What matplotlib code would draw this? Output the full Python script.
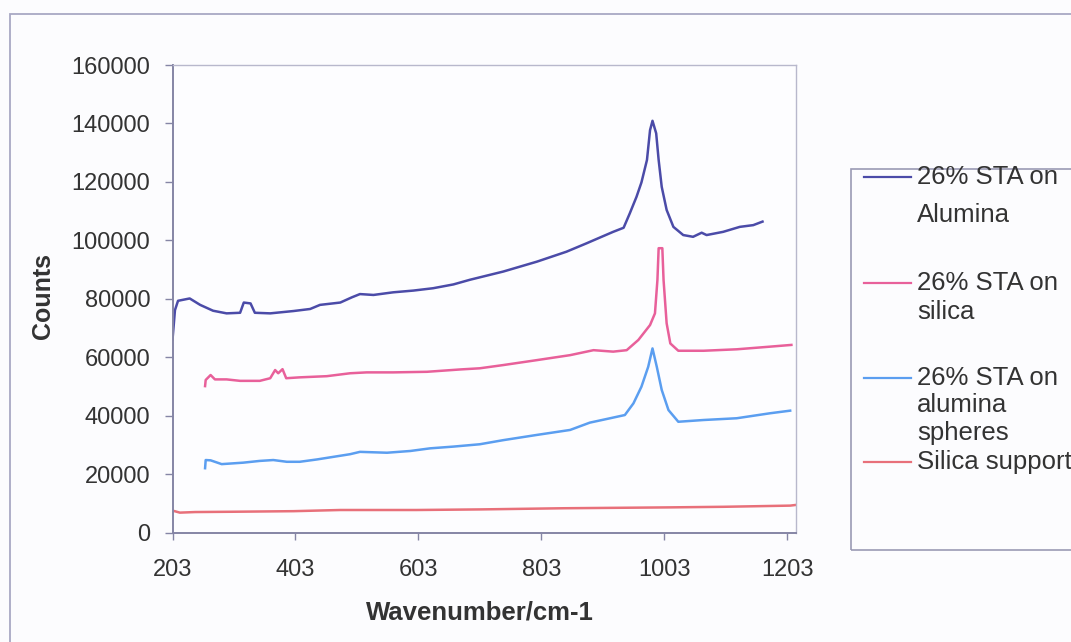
import matplotlib
matplotlib.use("Agg")
import matplotlib.pyplot as plt
from matplotlib.lines import Line2D
from matplotlib.patches import Rectangle

plt.rcParams['font.family'] = ['Liberation Sans', 'DejaVu Sans']

# Raman spectra
alumina_x = [203, 205, 207, 212, 231, 248, 269, 291, 313, 319, 330, 337, 362, 400,
             427, 443, 476, 495, 508, 530, 562, 595, 627, 660, 687, 741, 796, 844,
             877, 899, 920, 937, 947, 958, 966, 975, 980, 984, 990, 994, 999, 1007,
             1018, 1034, 1050, 1064, 1072, 1099, 1126, 1148, 1163]
alumina_y = [66000, 71000, 76100, 79300, 80100, 77900, 75900, 75000, 75200, 78700,
             78400, 75200, 75000, 75800, 76500, 77900, 78700, 80500, 81600, 81300,
             82200, 82800, 83600, 84900, 86500, 89300, 92700, 96100, 99000, 101000,
             102900, 104300, 109200, 114900, 119800, 127500, 137700, 140900, 136600,
             127500, 118300, 110400, 104600, 101800, 101200, 102600, 101800, 102900,
             104600, 105200, 106400]

silica_x = [256, 257, 265, 272, 291, 313, 345, 362, 370, 375, 382, 388, 410, 454,
            492, 519, 562, 617, 671, 703, 741, 796, 850, 888, 920, 942, 961, 980,
            988, 992, 994, 1000, 1002, 1007, 1013, 1026, 1067, 1121, 1175, 1210]
silica_y = [50100, 52200, 53900, 52400, 52400, 51900, 51900, 52800, 55600, 54500,
            55900, 52800, 53100, 53500, 54500, 54800, 54800, 55000, 55800, 56200,
            57300, 59000, 60700, 62400, 61900, 62400, 65900, 71000, 75000, 86400,
            97300, 97300, 86400, 71600, 64700, 62200, 62200, 62700, 63600, 64200]

spheres_x = [256, 257, 265, 283, 318, 345, 367, 389, 410, 438, 465, 492, 508, 552,
             590, 622, 660, 703, 741, 796, 850, 882, 915, 939, 953, 966, 977, 984,
             991, 999, 1010, 1026, 1067, 1121, 1175, 1208]
spheres_y = [22000, 24800, 24700, 23400, 23900, 24500, 24800, 24200, 24200, 25000,
             25900, 26800, 27600, 27300, 27900, 28800, 29400, 30200, 31600, 33400,
             35100, 37600, 39100, 40200, 44200, 49900, 56700, 63000, 56700, 48800,
             41900, 37900, 38500, 39100, 40800, 41700]

support_x = [203, 215, 240, 300, 400, 476, 600, 703, 839, 1013, 1100, 1208, 1216]
support_y = [7500, 6800, 7000, 7100, 7300, 7700, 7700, 7900, 8300, 8600, 8800, 9200, 9400]

series_labels = [["26% STA on", "Alumina"],
                 ["26% STA on", "silica"],
                 ["26% STA on", "alumina", "spheres"],
                 ["Silica support"]]
series_colors = ["#4b4ba8", "#e8609a", "#5b9ef0", "#e8707a"]

x_ticks = [203, 403, 603, 803, 1003, 1203]
y_ticks = [0, 20000, 40000, 60000, 80000, 100000, 120000, 140000, 160000]

W, H = 1071, 642
fig = plt.figure(figsize=(W / 100, H / 100), dpi=100, facecolor="#fcfcfe")
ax = fig.add_axes([172.5 / W, 1 - 532.5 / H, (795.7 - 172.5) / W, (532.5 - 65) / H])
ax.set_facecolor("#fdfdff")

data = [(alumina_x, alumina_y), (silica_x, silica_y),
        (spheres_x, spheres_y), (support_x, support_y)]
for (xs, ys), c in zip(data, series_colors):
    ax.plot(xs, ys, color=c, lw=1.8, solid_joinstyle="round")

ax.set_xlim(203, 1217)
ax.set_ylim(0, 160000)
ax.set_xticks(x_ticks)
ax.set_yticks(y_ticks)
ax.set_xticklabels([str(v) for v in x_ticks])
ax.set_yticklabels([str(v) for v in y_ticks])

axis_col = "#8585a5"
for side in ["left", "bottom"]:
    ax.spines[side].set_color(axis_col)
    ax.spines[side].set_linewidth(1.4)
for side in ["top", "right"]:
    ax.spines[side].set_color("#b8b8cc")
    ax.spines[side].set_linewidth(1.0)

ax.tick_params(axis="y", direction="out", length=6, width=1.0, color=axis_col,
               labelsize=17, labelcolor="#333333", pad=10)
ax.tick_params(axis="x", direction="out", length=5, width=1.0, color=axis_col,
               labelsize=17, labelcolor="#333333", pad=14)

fig.text(43 / W, 1 - 296 / H, "Counts", rotation=90, fontsize=18, fontweight="bold",
         color="#333333", ha="center", va="center")
fig.text(479.5 / W, 1 - 613 / H, "Wavenumber/cm-1", fontsize=18.5, fontweight="bold",
         color="#333333", ha="center", va="center")

# outer chart frame (runs off the scanned page)
fig.add_artist(Rectangle((10 / W, -0.2), 1.2, 1.2 - 14 / H, transform=fig.transFigure,
                         fill=False, edgecolor="#a8a8c4", lw=1.3))

# legend box, drawn by hand to match the wrapped Excel labels
fig.add_artist(Rectangle((851 / W, 1 - 550 / H), 0.5, (550 - 168.7) / H,
                         transform=fig.transFigure, fill=False,
                         edgecolor="#9a9ab4", lw=1.2))
line_y = [177, 283, 378, 462]
text_lines = [[177, 215], [283, 312], [378, 405, 433], [462]]
for lbl, c, ly, tys in zip(series_labels, series_colors, line_y, text_lines):
    fig.add_artist(Line2D([864 / W, 911 / W], [1 - ly / H, 1 - ly / H],
                          transform=fig.transFigure, color=c, lw=1.6))
    for part, ty in zip(lbl, tys):
        fig.text(917 / W, 1 - ty / H, part, fontsize=18.5, color="#333333",
                 ha="left", va="center")

fig.savefig("out.png", dpi=100, facecolor=fig.get_facecolor())
